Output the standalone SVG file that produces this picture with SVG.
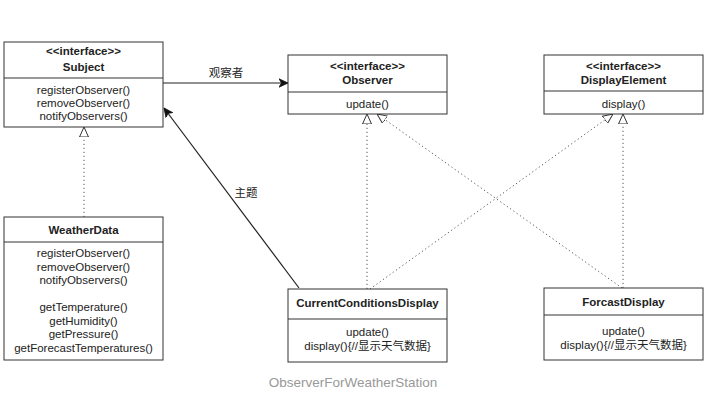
<svg xmlns="http://www.w3.org/2000/svg" width="709" height="405" viewBox="0 0 709 405">
<style>
.box{fill:#fff;stroke:#333;stroke-width:1}
.div{stroke:#333;stroke-width:1}
text{font-family:"Liberation Sans",Arial,sans-serif;font-size:11.5px;fill:#222;text-anchor:middle}
.b{font-weight:bold}
.cap{fill:#999;font-size:13.5px}
.dot{fill:none;stroke:#555;stroke-width:1;stroke-dasharray:1.2 2.8}
.sol{fill:none;stroke:#222;stroke-width:1.2}
.lbl{font-family:"Liberation Sans","Noto Sans CJK SC",sans-serif}
</style>
<defs>
<marker id="tri" viewBox="0 0 10 10" refX="10" refY="5" markerWidth="10" markerHeight="10" markerUnits="userSpaceOnUse" orient="auto">
<path d="M0,0.5 L10,5 L0,9.5 Z" fill="#fff" stroke="#333" stroke-width="1"/>
</marker>
<marker id="arr" viewBox="0 0 10 10" refX="9" refY="5" markerWidth="10" markerHeight="10" markerUnits="userSpaceOnUse" orient="auto">
<path d="M0,0.8 L9,5 L0,9.2 L2.5,5 Z" fill="#111" stroke="#111" stroke-width="0.8"/>
</marker>
</defs>
<g id="connectors">
<line class="sol" x1="163" y1="83" x2="288" y2="83" marker-end="url(#arr)"/>
<text class="lbl" x="226" y="77">观察者</text>
<line class="sol" x1="299" y1="288" x2="164" y2="108" marker-end="url(#arr)"/>
<text class="lbl" x="246" y="197">主题</text>
<line class="dot" x1="84" y1="217" x2="84" y2="127" marker-end="url(#tri)"/>
<line class="dot" x1="367" y1="289" x2="367" y2="114" marker-end="url(#tri)"/>
<line class="dot" x1="622" y1="288" x2="377" y2="114" marker-end="url(#tri)"/>
<line class="dot" x1="370" y1="289" x2="613" y2="114" marker-end="url(#tri)"/>
<line class="dot" x1="623" y1="288" x2="623" y2="114" marker-end="url(#tri)"/>
</g>
<g id="subject">
<rect class="box" x="4" y="42" width="159" height="85"/>
<line class="div" x1="4" y1="78" x2="163" y2="78"/>
<text class="b" x="83.5" y="55">&lt;&lt;interface&gt;&gt;</text>
<text class="b" x="83.5" y="71">Subject</text>
<text x="83.5" y="94">registerObserver()</text>
<text x="83.5" y="107">removeObserver()</text>
<text x="83.5" y="120">notifyObservers()</text>
</g>
<g id="observer">
<rect class="box" x="288" y="55" width="159" height="59"/>
<line class="div" x1="288" y1="92" x2="447" y2="92"/>
<text class="b" x="367.5" y="70">&lt;&lt;interface&gt;&gt;</text>
<text class="b" x="367.5" y="84">Observer</text>
<text x="367.5" y="108">update()</text>
</g>
<g id="displayelement">
<rect class="box" x="544" y="55" width="159" height="59"/>
<line class="div" x1="544" y1="91" x2="703" y2="91"/>
<text class="b" x="623.5" y="70">&lt;&lt;interface&gt;&gt;</text>
<text class="b" x="623.5" y="84">DisplayElement</text>
<text x="623.5" y="108">display()</text>
</g>
<g id="weatherdata">
<rect class="box" x="4" y="217" width="159" height="143"/>
<line class="div" x1="4" y1="242" x2="163" y2="242"/>
<text class="b" x="83.5" y="234">WeatherData</text>
<text x="83.5" y="257">registerObserver()</text>
<text x="83.5" y="270.5">removeObserver()</text>
<text x="83.5" y="284">notifyObservers()</text>
<text x="83.5" y="311">getTemperature()</text>
<text x="83.5" y="324.5">getHumidity()</text>
<text x="83.5" y="338">getPressure()</text>
<text x="83.5" y="351.5">getForecastTemperatures()</text>
</g>
<g id="currentconditions">
<rect class="box" x="288" y="289" width="159" height="73"/>
<line class="div" x1="288" y1="319" x2="447" y2="319"/>
<text class="b" x="367.5" y="307">CurrentConditionsDisplay</text>
<text x="367.5" y="336">update()</text>
<text class="lbl" x="367.5" y="349.5">display(){//显示天气数据}</text>
</g>
<g id="forcast">
<rect class="box" x="544" y="288" width="159" height="72"/>
<line class="div" x1="544" y1="315" x2="703" y2="315"/>
<text class="b" x="623.5" y="306">ForcastDisplay</text>
<text x="623.5" y="335">update()</text>
<text class="lbl" x="623.5" y="348.5">display(){//显示天气数据}</text>
</g>
<text class="cap" x="353" y="387">ObserverForWeatherStation</text>
</svg>
